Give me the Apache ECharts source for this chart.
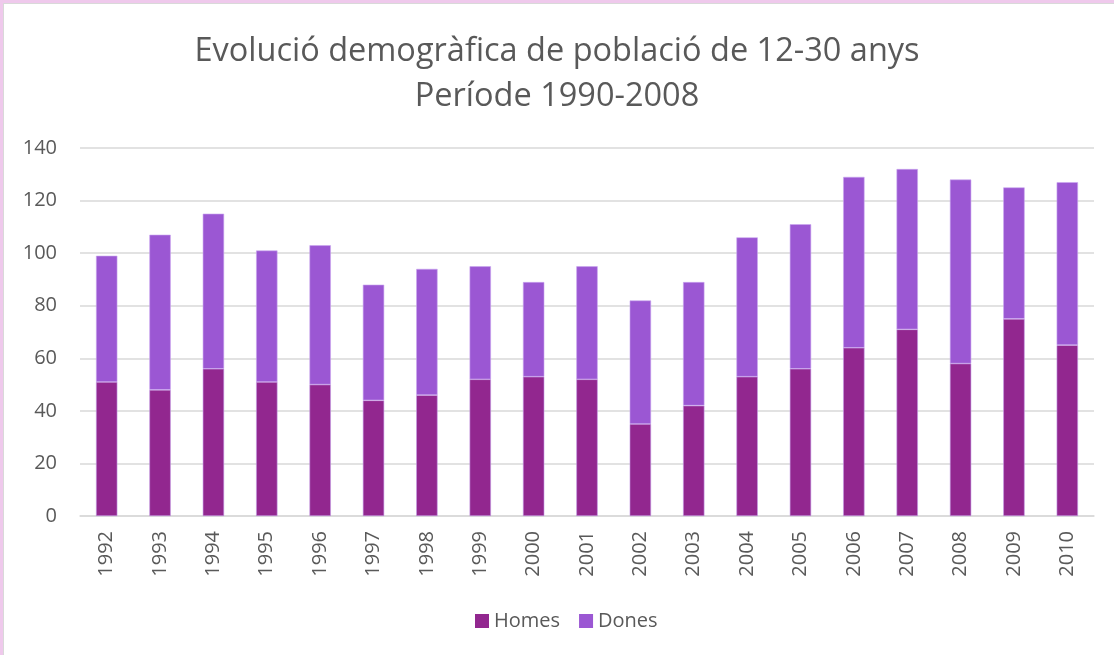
<!DOCTYPE html>
<html>
<head>
<meta charset="utf-8">
<script src="https://cdn.jsdelivr.net/npm/echarts@6/dist/echarts.min.js"></script>
<style>
  html, body { margin: 0; padding: 0; background: #fff; }
  #wrap { position: relative; width: 1114px; height: 655px; overflow: hidden; }
  #chart { position: absolute; left: 0; top: 0; width: 1114px; height: 655px; }
  #frame {
    position: absolute; left: 0; top: 0; width: 1114px; height: 655px;
    box-sizing: border-box; pointer-events: none;
    border-top: 3px solid #efc9ec; border-left: 3px solid #efc9ec;
  }
  #frame div {
    position: absolute; left: 0; top: 0; right: 0; bottom: 0;
    border-top: 1px solid #d9d9d9; border-left: 1px solid #d9d9d9;
  }
</style>
</head>
<body>
<div id="wrap">
  <div id="chart"></div>
  <div id="frame"><div></div></div>
</div>
<script>
// dades llegides del gràfic
var anys = ['1992', '1993', '1994', '1995', '1996', '1997', '1998', '1999', '2000', '2001',
            '2002', '2003', '2004', '2005', '2006', '2007', '2008', '2009', '2010']
var homes = [51, 48, 56, 51, 50, 44, 46, 52, 53, 52, 35, 42, 53, 56, 64, 71, 58, 75, 65]
var dones = [48, 59, 59, 50, 53, 44, 48, 43, 36, 43, 47, 47, 53, 55, 65, 61, 70, 50, 62]

var font = 'Open Sans'
var grey = '#595959'

var chart = echarts.init(document.getElementById('chart'))
var option = {
  animation: false,
  backgroundColor: '#fff',
  // titol en dues linies
  title: {
    text: 'Evolució demogràfica de població de 12-30 anys\nPeríode 1990-2008',
    left: 'center',
    top: 24,
    textStyle: {
      fontFamily: font,
      fontSize: 32.5,
      fontWeight: 'normal',
      color: grey,
      lineHeight: 45
    }
  },
  legend: {
    data: ['Homes', 'Dones'],
    top: 606,
    left: 470,
    icon: 'rect',
    itemWidth: 14,
    itemHeight: 14,
    itemGap: 19,
    itemStyle: { borderWidth: 0 },
    textStyle: { fontFamily: font, fontSize: 20, color: grey }
  },
  grid: { left: 80, right: 20, top: 148, bottom: 139 },
  xAxis: {
    type: 'category',
    data: anys,
    axisLine: { lineStyle: { color: '#d9d9d9', width: 1.5 } },
    axisTick: { show: false },
    axisLabel: { rotate: 90, margin: 15, fontFamily: font, fontSize: 20, color: grey }
  },
  yAxis: {
    type: 'value',
    min: 0,
    max: 140,
    interval: 20,
    axisLine: { show: false },
    axisTick: { show: false },
    splitLine: { lineStyle: { color: '#d9d9d9', width: 1.5 } },
    axisLabel: { margin: 23, fontFamily: font, fontSize: 20, color: grey }
  },
  series: [
    {
      name: 'Homes',
      type: 'bar',
      stack: 'total',
      barWidth: '40%',
      data: homes,
      itemStyle: { color: '#92278f', borderColor: '#c49ae6', borderWidth: 0.6 }
    },
    {
      name: 'Dones',
      type: 'bar',
      stack: 'total',
      barWidth: '40%',
      data: dones,
      itemStyle: { color: '#9b57d3', borderColor: '#c9a6f0', borderWidth: 0.6 }
    }
  ]
}
chart.setOption(option)
</script>
</body>
</html>
